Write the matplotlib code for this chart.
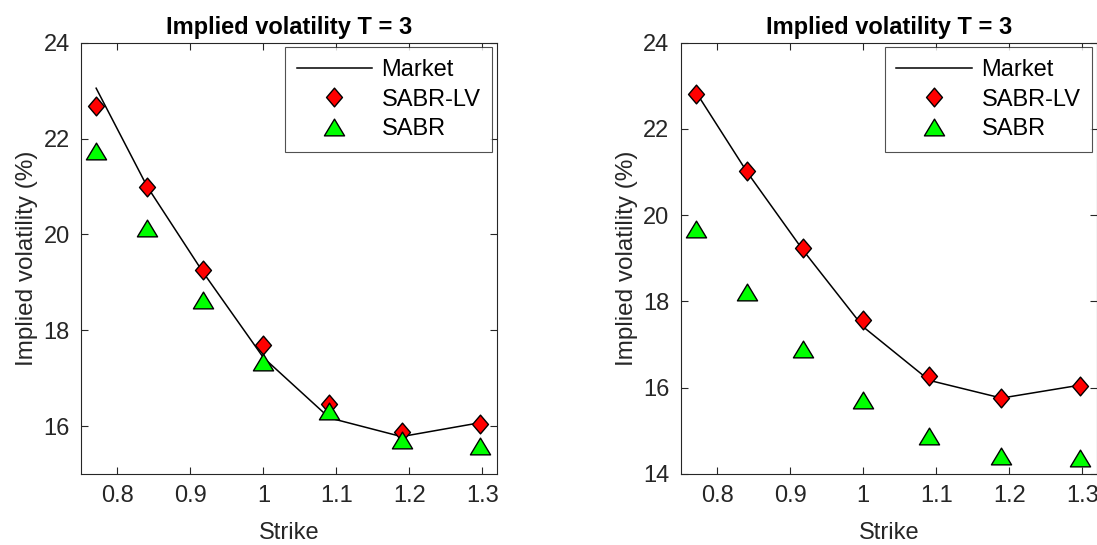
"""Implied volatility smiles at T = 3: market vs SABR-LV vs SABR
"""

import matplotlib
matplotlib.use('Agg')
import matplotlib.pyplot as plt
from matplotlib.path import Path

# Strikes (same for both panels)
strikes = [0.7711, 0.8409, 0.9170, 1.0000, 1.0905, 1.1892, 1.2968]

# Left panel
market_left = [23.05, 21.00, 19.22, 17.43, 16.17, 15.78, 16.07]
sabrlv_left = [22.68, 20.98, 19.26, 17.70, 16.47, 15.88, 16.05]
sabr_left = [21.75, 20.13, 18.64, 17.33, 16.31, 15.71, 15.58]

# Right panel
market_right = [22.85, 21.00, 19.20, 17.41, 16.17, 15.76, 16.06]
sabrlv_right = [22.80, 21.02, 19.23, 17.57, 16.27, 15.77, 16.03]
sabr_right = [19.68, 18.22, 16.89, 15.71, 14.88, 14.41, 14.37]

xticks = [0.8, 0.9, 1.0, 1.1, 1.2, 1.3]
xticklabels = ['0.8', '0.9', '1', '1.1', '1.2', '1.3']

plt.rcParams['font.family'] = ['Liberation Sans', 'DejaVu Sans']
FS = 17

# MATLAB-like markers: a slightly tall diamond and a wide triangle
diamond = Path([(0, 1), (0.85, 0), (0, -1), (-0.85, 0), (0, 1)],
               [Path.MOVETO, Path.LINETO, Path.LINETO, Path.LINETO, Path.CLOSEPOLY])
triangle = Path([(0, 0.83), (1, -0.83), (-1, -0.83), (0, 0.83)],
                [Path.MOVETO, Path.LINETO, Path.LINETO, Path.CLOSEPOLY])

dark = (0.15, 0.15, 0.15)

fig = plt.figure(figsize=(10.97, 5.45), dpi=100)
ax1 = fig.add_axes([0.0736, 0.1303, 0.3795, 0.7914])
ax2 = fig.add_axes([0.6205, 0.1303, 0.3795, 0.7914])


def draw_panel(ax, market, sabrlv, sabr, ylim, yticks):
    ax.plot(strikes, market, color='k', lw=1.1, label='Market')
    ax.plot(strikes, sabrlv, ls='none', marker=diamond, ms=13.5, mfc='r', mec='k',
            mew=1.0, label='SABR-LV')
    ax.plot(strikes, sabr, ls='none', marker=triangle, ms=14.5, mfc=(0, 1, 0), mec='k',
            mew=1.0, label='SABR')

    ax.set_xlim(0.75, 1.32)
    ax.set_ylim(*ylim)
    ax.set_xticks(xticks)
    ax.set_xticklabels(xticklabels)
    ax.set_yticks(yticks)

    # Box with inward ticks on all sides
    ax.tick_params(direction='in', top=True, right=True, length=5, width=0.8,
                   colors=dark, labelcolor=dark, labelsize=FS, pad=8)
    for s in ax.spines.values():
        s.set_color(dark)
        s.set_linewidth(0.8)

    ax.set_xlabel('Strike', color=dark, fontsize=FS, labelpad=11)
    ax.set_ylabel('Implied volatility (%)', color=dark, fontsize=17.5, labelpad=4)
    ax.set_title('Implied volatility T = 3', fontsize=17, fontweight='bold', pad=6)

    leg = ax.legend(loc='upper right', fontsize=FS, frameon=True, fancybox=False,
                    borderaxespad=0.2, handlelength=3.2, handletextpad=0.4,
                    labelspacing=0.32, borderpad=0.5)
    leg.get_frame().set_edgecolor(dark)
    leg.get_frame().set_linewidth(0.8)


draw_panel(ax1, market_left, sabrlv_left, sabr_left, (15, 24), [16, 18, 20, 22, 24])
draw_panel(ax2, market_right, sabrlv_right, sabr_right, (14, 24), [14, 16, 18, 20, 22, 24])

fig.savefig('out.png', dpi=100)
